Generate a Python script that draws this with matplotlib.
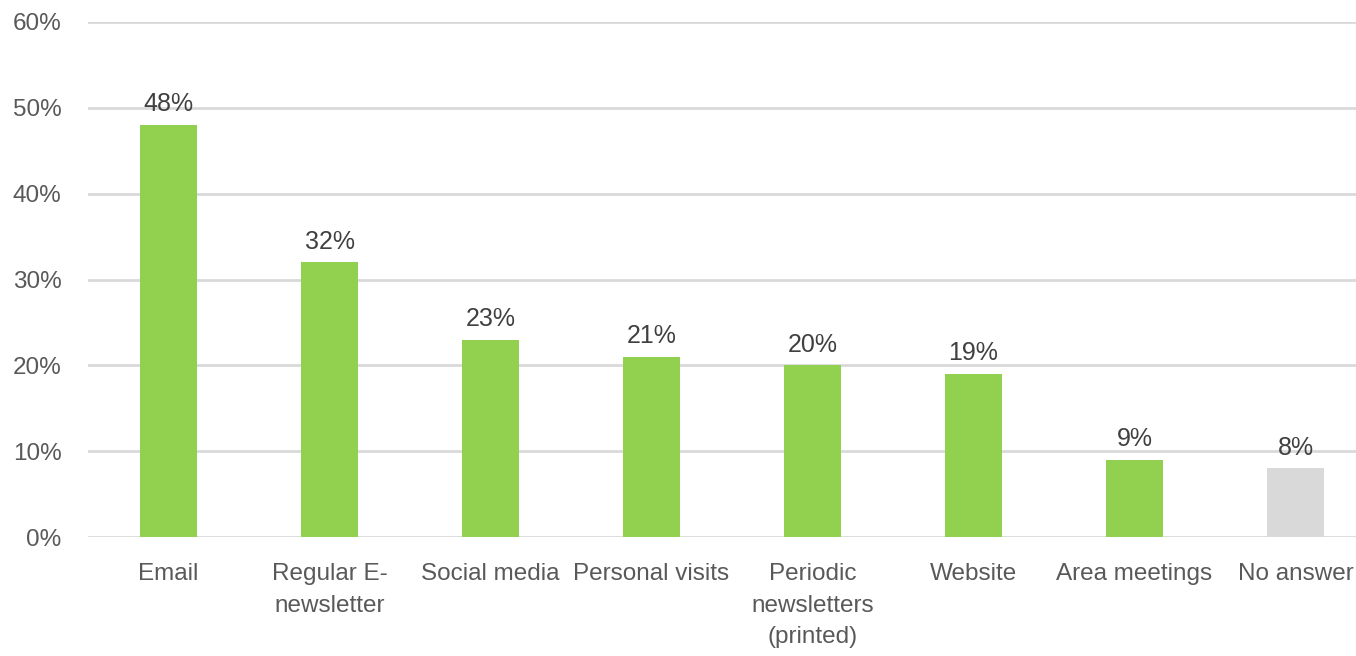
import matplotlib.pyplot as plt
from matplotlib.ticker import PercentFormatter

# Survey: preferred communication channels
categories = ['Email', 'Regular E-\nnewsletter', 'Social media', 'Personal visits',
              'Periodic\nnewsletters\n(printed)', 'Website', 'Area meetings', 'No answer']
shares = [48, 32, 23, 21, 20, 19, 9, 8]
bar_colors = ['#92D050'] * 7 + ['#D9D9D9']

plt.rcParams['font.family'] = ['Liberation Sans', 'DejaVu Sans']
text_color = '#595959'
fs = 17.5

fig = plt.figure(figsize=(13.56, 6.56), dpi=100)
ax = fig.add_axes([88 / 1356, (656 - 537) / 656, 1288 / 1356, 515 / 656])

x = range(len(categories))
bars = ax.bar(x, shares, width=0.355, color=bar_colors, zorder=3)

for rect, v in zip(bars, shares):
    ax.text(rect.get_x() + rect.get_width() / 2, v + 1.0, f'{v}%',
            ha='center', va='bottom', fontsize=fs + 0.5, color='#404040')

ax.set_xlim(-0.5, 7.5)
ax.set_ylim(0, 60)
ax.set_yticks(range(0, 61, 10))
ax.yaxis.set_major_formatter(PercentFormatter(decimals=0))
ax.set_xticks(list(x))
ax.set_xticklabels(categories, fontsize=fs, color=text_color, linespacing=1.55)
ax.tick_params(axis='y', labelsize=fs, labelcolor=text_color, length=0, pad=19)
ax.tick_params(axis='x', length=0, pad=19)

ax.grid(axis='y', color='#D9D9D9', linewidth=2, zorder=0)
for s in ax.spines.values():
    s.set_visible(False)

fig.savefig('out.png', dpi=100)
